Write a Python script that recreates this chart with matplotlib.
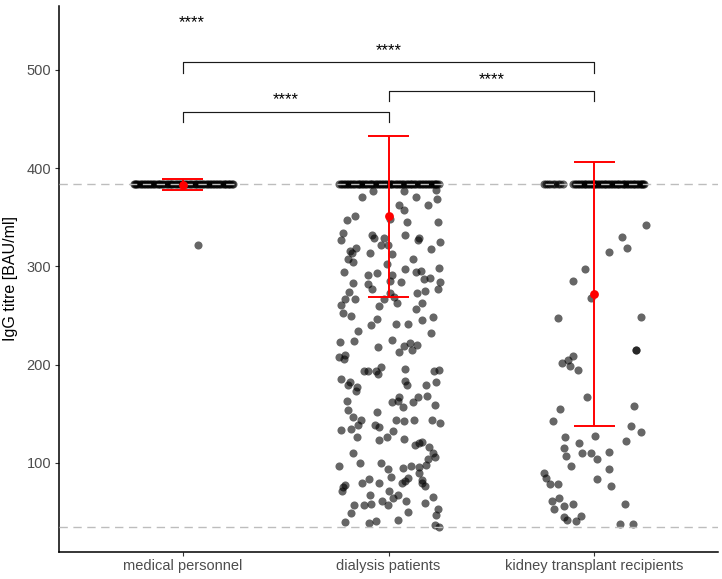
import matplotlib
matplotlib.use("Agg")
import matplotlib.pyplot as plt

plt.rcParams['font.family'] = ['Liberation Sans', 'DejaVu Sans']

# ---------------- data ----------------
groups = ["medical personnel", "dialysis patients", "kidney transplant recipients"]
upper_limit = 384   # assay upper detection limit (BAU/ml)
lower_limit = 35    # assay lower detection limit (BAU/ml)

# mean and SD
group_mean = [383.2, 351.0, 272.0]
group_sd = [5.6, 82.0, 134.5]

# values at the upper limit (jitter offsets only)
medical_top_jitter = [-0.238, -0.226, -0.211, -0.197, -0.183, -0.166, -0.152, -0.139, -0.121, -0.108,
                      -0.094, -0.077, -0.063, -0.049, -0.034, -0.018, -0.004, 0.011, 0.027, 0.041,
                      0.058, 0.072, 0.086, 0.101, 0.117, 0.132, 0.146, 0.161, 0.177, 0.192,
                      0.206, 0.219, 0.232, 0.243,
                      -0.232, -0.219, -0.204, -0.189, -0.174, -0.158, -0.144, -0.129, -0.114, -0.101,
                      -0.085, -0.070, -0.056, -0.041, -0.026, -0.011, 0.004, 0.019, 0.034, 0.049,
                      0.065, 0.079, 0.094, 0.109, 0.124, 0.139, 0.154, 0.169, 0.184, 0.199,
                      0.213, 0.226, 0.238]
medical_titre = [321.7]
medical_jitter = [0.074]

dialysis_top_jitter = [-0.238, -0.224, -0.209, -0.196, -0.181, -0.167, -0.150, -0.136, -0.123, -0.107,
                       -0.092, -0.078, -0.061, -0.047, -0.033, -0.019, -0.003, 0.012, 0.026, 0.043,
                       0.057, 0.071, 0.088, 0.102, 0.116, 0.131, 0.147, 0.162, 0.176, 0.191,
                       0.205, 0.220, 0.231, 0.243,
                       -0.231, -0.216, -0.202, -0.188, -0.174, -0.158, -0.143, -0.129, -0.115, -0.099,
                       -0.085, -0.069, -0.054, -0.040, -0.026, -0.011, 0.005, 0.019, 0.035, 0.050,
                       0.064, 0.080, 0.095, 0.109, 0.124, 0.139, 0.155, 0.169, 0.183, 0.198,
                       0.212, 0.226, 0.237]
dialysis_titre = [
    377, 377, 378, 370.5, 370.5, 368.8, 362.4, 357.3, 362.1, 351.2,
    347.1, 347.8, 345.4, 345.4, 334.2, 326.8, 331.5, 328.5, 329.1, 331.8,
    326.8, 328.5, 324.7, 321.4, 321.7, 318.3, 315.6, 313.8, 313.8, 312.2,
    317.3, 307.7, 304.4, 302.6, 307.7, 298.6, 294.2, 296.9, 294.5, 295.2,
    292.9, 290.8, 290.8,
    287.4, 288.4, 284.0, 283.3, 282.3, 284.7, 284.0, 277.2, 277.2, 273.9,
    274.9, 273.1, 273.1, 268.8, 267.0, 266.4, 266.4, 263.0, 260.3, 259.6,
    263.0, 256.3, 252.8, 249.1, 246.7, 245.7, 248.4, 240.0, 241.6, 241.0,
    233.9, 232.5, 225.3, 223.0, 223.7, 221.9, 220.2, 218.9, 217.9, 214.5,
    212.8, 207.7, 209.5, 205.4,
    193.2, 193.8, 193.2, 190.4, 197.6, 195.5, 193.2, 194.8, 185.7, 182.3,
    178.9, 176.9, 172.8, 183.6, 179.6, 178.9, 182.0, 166.7, 163.3, 161.9,
    156.6, 161.9, 167.0, 168.4, 162.7, 153.5, 158.6, 151.8, 146.4, 143.3,
    138.2, 134.8, 133.8, 138.2, 136.2, 143.3, 142.3, 143.3, 143.3, 140.6,
    132.1, 126.3, 126.3, 123.0, 124.3, 121.3, 120.2, 117.9, 115.9,
    109.8, 109.8, 105.7, 104.0, 98.2, 97.1, 99.6, 99.9, 93.8, 94.5,
    96.5, 95.5, 89.4, 85.9, 83.6, 79.2, 79.2, 84.3, 81.3, 79.6,
    82.9, 79.2, 76.2, 77.8, 75.8, 71.1, 71.7, 67.3, 67.6, 64.3,
    60.9, 57.5, 60.9, 65.0, 59.2, 57.2, 57.2, 58.2, 53.1, 47.0,
    48.7, 49.7, 39.6, 38.5, 40.6, 41.9, 37.1, 35.1]
dialysis_jitter = [
    -0.076, 0.073, 0.232, -0.130, 0.133, 0.236, 0.049, 0.073, 0.194, -0.165,
    -0.202, 0.008, 0.089, 0.239, -0.222, -0.232, -0.081, -0.069, -0.021, 0.081,
    0.142, 0.150, 0.251, -0.037, -0.003, -0.157, -0.189, -0.178, -0.089, 0.016,
    0.207, -0.199, -0.170, -0.005, 0.121, 0.243, -0.218, 0.078, 0.133, 0.159,
    -0.057, -0.100, 0.016,
    0.170, 0.202, 0.251, -0.170, -0.100, 0.005, 0.062, 0.238, -0.081, -0.191,
    0.175, 0.137, 0.005, 0.029, -0.165, -0.210, -0.024, 0.040, -0.230, -0.044,
    0.162, 0.133, -0.223, -0.181, -0.057, 0.162, 0.218, -0.086, 0.037, 0.097,
    -0.150, 0.207, 0.016, -0.234, -0.167, 0.105, 0.137, 0.073, -0.049, 0.113,
    0.049, -0.238, -0.210, -0.218,
    -0.121, -0.100, -0.062, -0.049, -0.037, 0.078, 0.223, 0.246, -0.232, -0.186,
    -0.199, -0.154, -0.159, 0.078, 0.092, 0.180, 0.232, 0.049, 0.045, 0.016,
    0.068, 0.117, 0.142, 0.186, -0.202, -0.198, 0.227, -0.057, -0.170, -0.133,
    -0.149, -0.183, -0.230, -0.065, -0.045, 0.037, 0.076, 0.123, 0.210, 0.248,
    0.024, -0.154, -0.008, -0.044, 0.076, 0.162, 0.149, 0.130, 0.198,
    -0.170, 0.218, 0.227, 0.194, 0.181, -0.239, -0.137, -0.037, -0.003, 0.068,
    0.110, 0.149, 0.146, 0.013, -0.097, -0.130, -0.045, 0.097, 0.081, 0.065,
    0.165, 0.162, 0.178, -0.210, -0.223, -0.227, 0.000, -0.089, 0.045, 0.021,
    -0.033, -0.003, 0.084, 0.218, 0.178, -0.167, -0.121, -0.086, 0.239, 0.230,
    -0.181, 0.094, -0.210, -0.094, -0.060, 0.044, 0.227, 0.243]

kidney_top_jitter = [-0.244, -0.226, -0.203, -0.178, -0.154, -0.236, -0.214, -0.191, -0.165,
                     -0.103, -0.089, -0.074, -0.060, -0.047, -0.031, -0.018, -0.004, 0.009, 0.023,
                     0.038, 0.051, 0.066, 0.080, 0.094, 0.108, 0.121, 0.137, 0.150, 0.164,
                     0.179, 0.192, 0.206, 0.219, 0.230, 0.239,
                     -0.096, -0.081, -0.067, -0.053, -0.039, -0.025, -0.011, 0.002, 0.016, 0.030,
                     0.045, 0.058, 0.073, 0.087, 0.101, 0.114, 0.129, 0.143, 0.157, 0.171,
                     0.186, 0.199, 0.212, 0.225, 0.235]
kidney_titre = [
    341.7, 329.5, 318.9, 314.2, 297.3, 285.4, 267.4, 247.4, 248.7, 214.9,
    215.2, 209.1, 204.7, 201.6, 198.6, 194.5, 167.3, 154.5, 157.9, 142.3,
    137.5, 131.1, 122.6, 126.7, 127.4, 120.6, 115.2, 109.8, 110.4, 111.1,
    107.0, 104.3, 96.8, 93.5, 90.0, 84.9, 83.9, 78.2, 78.5, 76.5,
    61.2, 64.0, 56.5, 58.5, 52.8, 58.5, 45.3, 41.9, 41.2, 46.3,
    37.5, 37.8]
kidney_jitter = [
    0.248, 0.134, 0.160, 0.069, -0.044, -0.102, -0.015, -0.178, 0.228, 0.200,
    0.204, -0.103, -0.128, -0.157, -0.120, -0.081, -0.036, -0.168, 0.191, -0.202,
    0.178, 0.228, 0.152, -0.141, 0.005, -0.073, -0.150, -0.060, -0.018, 0.071,
    -0.136, 0.011, -0.115, 0.071, -0.244, -0.234, 0.010, -0.217, -0.178, 0.079,
    -0.207, -0.170, -0.150, -0.105, -0.196, 0.149, -0.149, -0.133, -0.091, -0.063,
    0.125, 0.186]

# significance brackets: (from group, to group, height, label)
bracket_from = [1, 2, 1]
bracket_to = [2, 3, 3]
bracket_y = [457.3, 478.3, 507.5]
bracket_drop = 10.6
bracket_label = ["****", "****", "****"]
extra_label = "****"
extra_label_x = 1.045
extra_label_y = 543

# ---------------- plot ----------------
fig = plt.figure(figsize=(7.22, 5.79), dpi=100)
ax = fig.add_axes([0.0817, 0.0472, 0.9128, 0.9424])

top_j = [medical_top_jitter, dialysis_top_jitter, kidney_top_jitter]
low_v = [medical_titre, dialysis_titre, kidney_titre]
low_j = [medical_jitter, dialysis_jitter, kidney_jitter]

xs, ys = [], []
for i in range(3):
    for j in top_j[i]:
        xs.append(i + 1 + j)
        ys.append(upper_limit)
    for v, j in zip(low_v[i], low_j[i]):
        xs.append(i + 1 + j)
        ys.append(v)
ax.scatter(xs, ys, s=34, c='black', alpha=0.6, linewidths=0, zorder=2)

for lim in (upper_limit, lower_limit):
    ax.axhline(lim, color='#BDBDBD', lw=1.0, ls=(0, (6, 4)), zorder=3)

for i, (m, s) in enumerate(zip(group_mean, group_sd)):
    x = i + 1
    ax.vlines(x, m - s, m + s, color='#FF0000', lw=1.4, zorder=4)
    ax.hlines([m - s, m + s], x - 0.1, x + 0.1, color='#FF0000', lw=1.4, zorder=4)
    ax.scatter([x], [m], s=40, c='#FF0000', linewidths=0, zorder=5)

for a, b, y, lab in zip(bracket_from, bracket_to, bracket_y, bracket_label):
    ax.plot([a, a, b, b], [y - bracket_drop, y, y, y - bracket_drop],
            color='#1a1a1a', lw=0.85, zorder=3)
    ax.text((a + b) / 2, y + 7.5, lab, ha='center', va='baseline', fontsize=12,
            color='black')
ax.text(extra_label_x, extra_label_y, extra_label, ha='center', va='baseline',
        fontsize=12, color='black')

ax.set_xlim(0.4, 3.6)
ax.set_ylim(9.7, 564.8)
ax.set_xticks([1, 2, 3])
ax.set_xticklabels(groups)
ax.set_yticks([100, 200, 300, 400, 500])
ax.set_ylabel("IgG titre [BAU/ml]", fontsize=11.5, color='black', labelpad=6)

for side in ('top', 'right'):
    ax.spines[side].set_visible(False)
for side in ('left', 'bottom'):
    ax.spines[side].set_linewidth(1.1)
    ax.spines[side].set_color('black')
ax.tick_params(axis='both', length=3, width=0.8, color='#333333',
               labelcolor='#4D4D4D', labelsize=10.5, pad=2.5)

fig.savefig("out.png", dpi=100)
